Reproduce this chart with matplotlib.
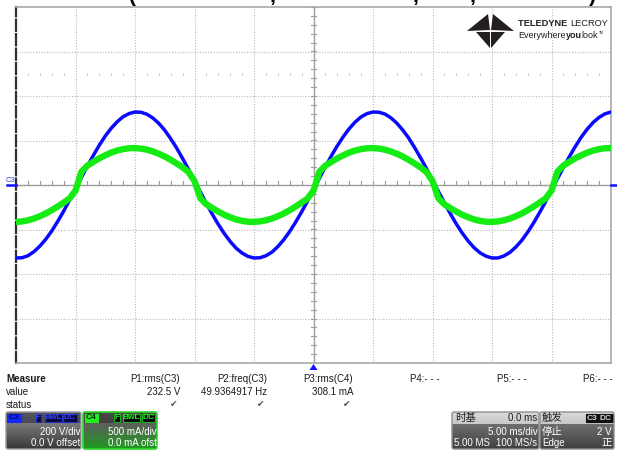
import numpy as np
import matplotlib.pyplot as plt
from matplotlib.patches import FancyBboxPatch, Polygon, Rectangle
from matplotlib.colors import to_rgb

plt.rcParams['font.family'] = ['Liberation Sans', 'DejaVu Sans', 'Noto Sans CJK SC']

# scope settings (from the readout)
volts_per_div = 200
ma_per_div = 500
ms_per_div = 5

# C3 voltage in V, one sample per 0.5 ms from -25 ms to +25 ms
t_volt = np.arange(-25, 25.25, 0.5)
volt = [-328, -327, -318, -300, -275, -244, -207, -164, -118, -68,
        -17, 34, 85, 133, 179, 220, 255, 284, 307, 321,
        328, 327, 318, 301, 277, 246, 208, 166, 119, 70,
        19, -32, -83, -132, -177, -218, -254, -284, -306, -321,
        -328, -327, -318, -302, -277, -246, -209, -167, -121, -72,
        -21, 31, 82, 131, 176, 217, 253, 283, 306, 321,
        328, 327, 319, 302, 278, 247, 211, 168, 122, 73,
        22, -29, -80, -129, -175, -216, -252, -282, -305, -320,
        -328, -328, -319, -303, -279, -249, -212, -170, -124, -75,
        -24, 28, 79, 127, 173, 215, 251, 281, 304, 320, 328]

# C4 current in mA, one sample per 0.5 ms
t_curr = np.arange(-25, 25.25, 0.5)
curr = [-415, -409, -397, -377, -351, -320, -283, -242, -198, -152,
        -63, 150, 218, 260, 300, 334, 364, 387, 403, 413,
        415, 409, 397, 377, 351, 320, 283, 242, 198, 145,
        45, -150, -217, -260, -299, -334, -363, -387, -403, -413,
        -415, -409, -397, -377, -351, -320, -283, -242, -198, -152,
        -63, 150, 218, 260, 300, 334, 364, 387, 403, 413,
        415, 409, 397, 377, 351, 320, 283, 242, 198, 145,
        45, -150, -217, -260, -299, -334, -363, -387, -403, -413,
        -415, -409, -397, -377, -351, -320, -283, -242, -198, -152,
        -63, 150, 218, 260, 300, 334, 364, 387, 403, 413, 415]

measure_names = ["P1:rms(C3)", "P2:freq(C3)", "P3:rms(C4)", "P4:- - -", "P5:- - -", "P6:- - -"]
measure_values = ["232.5 V", "49.9364917 Hz", "308.1 mA", "", "", ""]
measure_ok = [True, True, True, False, False, False]

W, H = 617, 450
fig = plt.figure(figsize=(W / 100, H / 100), dpi=100)
fig.patch.set_facecolor("white")

# ---- waveform grid ----
ax = fig.add_axes([16 / W, 1 - 363 / H, 595 / W, 356 / H])
ax.set_xlim(-25, 25)
ax.set_ylim(-4, 4)
ax.set_xticks([])
ax.set_yticks([])
grid_c = "#b8b8b8"
for x in range(-20, 25, ms_per_div):
    if x != 0:
        ax.axvline(x, color=grid_c, lw=0.8, ls=(0, (1, 1.5)), zorder=1)
for y in range(-3, 4):
    if y != 0:
        ax.axhline(y, color=grid_c, lw=0.8, ls=(0, (1, 1.5)), zorder=1)
ax.axhline(0, color="#9c9c9c", lw=1.0, zorder=1)
ax.axvline(0, color="#9c9c9c", lw=1.0, zorder=1)
for xs in np.arange(-25, 25.01, 1.0):
    ax.plot([xs, xs], [0, 0.08], color="#9c9c9c", lw=0.8, zorder=1)
    if abs(xs % 5) > 1e-6:
        ax.plot([xs, xs], [2.48, 2.52], color="#d0d0d0", lw=0.8, zorder=1)
for ys in np.arange(-4, 4.01, 0.2):
    ax.plot([-0.2, 0.2], [ys, ys], color="#9c9c9c", lw=0.8, zorder=1)

ax.plot(t_volt, np.array(volt) / volts_per_div, color="#0a0aff", lw=2.5,
        solid_joinstyle="round", zorder=3)
ax.plot(t_curr, np.array(curr) / ma_per_div, color="#14ec14", lw=4.6,
        solid_joinstyle="round", zorder=4)

for s in ["top", "right", "bottom"]:
    ax.spines[s].set_color("#a8a8a8")
    ax.spines[s].set_linewidth(1.2)
ax.spines["left"].set_color("#303030")
ax.spines["left"].set_linewidth(1.6)
ax.spines["left"].set_linestyle((0, (5, 1.5)))

# ---- everything else in pixel coordinates ----
px = fig.add_axes([0, 0, 1, 1])
px.axis("off")


def grad(x0, x1, y0, y1, c0, c1):
    a = np.linspace(0, 1, 32)[:, None, None]
    img = (1 - a) * np.array(to_rgb(c0)) + a * np.array(to_rgb(c1))
    img = np.repeat(img, 2, axis=1)
    px.imshow(img, extent=(x0, x1, y1, y0), aspect="auto", interpolation="bilinear", zorder=2)


def frame(x0, x1, y0, y1, ec, lw=1.0):
    px.add_patch(FancyBboxPatch((x0, y0), x1 - x0, y1 - y0,
                                boxstyle="round,pad=0,rounding_size=2",
                                fc="none", ec=ec, lw=lw, zorder=5))


def badge(x0, x1, y0, y1, text, fc, tc, ec=None, size=6):
    px.add_patch(Rectangle((x0, y0), x1 - x0, y1 - y0, fc=fc, ec=ec or fc, lw=0.8, zorder=4))
    px.text((x0 + x1) / 2, (y0 + y1) / 2 + 0.3, text, color=tc, fontsize=size,
            ha="center", va="center", fontweight="bold", zorder=6)


# cut-off title at the very top
for xx, ch in zip([133, 272, 415, 472, 592], ["(", ",", ",", ",", ")"]):
    px.text(xx, 2, ch, fontsize=15, fontweight="bold", ha="center", va="baseline", color="black")

# channel / trigger markers
px.text(11, 181, "C3", fontsize=5.5, color="#2a48e0", ha="center", va="center")
px.plot([7, 16], [185, 185], color="#1010ff", lw=1.8)
px.plot([611, 616], [185, 185], color="#1010ff", lw=1.8)
px.add_patch(Polygon([(309.5, 370), (317.5, 370), (313.5, 364)], fc="#1010ff", ec="none"))

# Teledyne LeCroy logo
logo_c = "#231f20"
for pts in [[(467, 31), (488, 14), (490, 30)],
            [(514, 31), (493, 14), (491, 30)],
            [(476, 31.5), (490, 31.5), (490, 48)],
            [(505, 31.5), (491, 31.5), (491, 48)]]:
    px.add_patch(Polygon(pts, fc=logo_c, ec="none"))
r = fig.canvas.get_renderer()
x = 518
for s, wgt in [("TELEDYNE ", "bold"), ("LECROY", "normal")]:
    t = px.text(x, 24, s, fontsize=6.7, fontweight=wgt, color=logo_c, va="center", ha="left")
    x += t.get_window_extent(r).width
x = 518
for s, wgt in [("Everywhere", "normal"), ("you", "bold"), ("look", "normal")]:
    t = px.text(x, 36, s, fontsize=6.5, fontweight=wgt, color=logo_c, va="center", ha="left")
    x += t.get_window_extent(r).width
px.text(x + 0.5, 32.5, "TM", fontsize=2.5, color=logo_c, va="center", ha="left")

# measurement table
txt_c = "#1a1a1a"
px.text(6, 379, "Measure", fontsize=7, fontweight="bold", color=txt_c, va="center")
px.text(6, 392, "value", fontsize=7, color=txt_c, va="center")
px.text(6, 405, "status", fontsize=7, color=txt_c, va="center")
col_right = [180, 267, 353, 440, 527, 613]
for xr, name, val, ok in zip(col_right, measure_names, measure_values, measure_ok):
    px.text(xr, 379, name, fontsize=7, color=txt_c, ha="right", va="center")
    if val:
        px.text(xr, 392, val, fontsize=7, color=txt_c, ha="right", va="center")
    if ok:
        px.text(xr - 6, 405, "\u2714", fontsize=6.5, color="#505050", ha="center", va="center",
                family="DejaVu Sans")

# C3 channel box
grad(6, 81, 412, 423, "#56565e", "#4a4a52")
grad(6, 81, 423, 449, "#7a7a7a", "#383838")
frame(6, 81, 412, 449, "#9a9aa2")
badge(7, 21, 413.5, 421.5, "C3", "#1428ff", "#000a60")
for x0, x1, s in [(36, 41, "F"), (45, 62, "BwL"), (63, 77, "DC")]:
    badge(x0, x1, 413.5, 421.5, s, "#08083a", "#3444ff", ec="#2030c0")
px.text(80, 432, "200 V/div", fontsize=7, color="white", ha="right", va="center", zorder=6)
px.text(80, 443, "0.0 V offset", fontsize=7, color="white", ha="right", va="center", zorder=6)

# C4 channel box
grad(83, 157, 412, 423, "#4a4a4a", "#404040")
grad(83, 157, 423, 449, "#5e5e5e", "#1e9a1e")
frame(83, 157, 412, 449, "#2ed82e", lw=1.2)
badge(85, 98, 413.5, 421.5, "C4", "#22ee22", "#003000")
for x0, x1, s in [(114, 120, "F"), (123, 140, "BwL"), (142, 155, "DC")]:
    badge(x0, x1, 413.5, 421.5, s, "#050505", "#22ee22", ec="#22aa22")
px.text(157, 432, "500 mA/div", fontsize=7, color="white", ha="right", va="center", zorder=6)
px.text(157, 443, "0.0 mA ofst", fontsize=7, color="white", ha="right", va="center", zorder=6)

# timebase box
grad(452, 539, 412, 424, "#dadada", "#c8c8c8")
grad(452, 539, 424, 449, "#6e6e6e", "#404040")
frame(452, 539, 412, 449, "#909090")
px.text(455, 418, "时基", fontsize=7.5, color="#202020", ha="left", va="center", zorder=6)
px.text(537, 418, "0.0 ms", fontsize=7, color="#202020", ha="right", va="center", zorder=6)
px.text(538, 432, "5.00 ms/div", fontsize=7, color="white", ha="right", va="center", zorder=6)
px.text(454, 443, "5.00 MS", fontsize=7, color="white", ha="left", va="center", zorder=6)
px.text(537, 443, "100 MS/s", fontsize=7, color="white", ha="right", va="center", zorder=6)

# trigger box
grad(540, 614, 412, 424, "#dadada", "#c8c8c8")
grad(540, 614, 424, 449, "#6e6e6e", "#404040")
frame(540, 614, 412, 449, "#909090")
px.text(542, 418, "触发", fontsize=7.5, color="#202020", ha="left", va="center", zorder=6)
badge(586, 598, 413.5, 422, "C3", "#101010", "#d8d8d8")
badge(599, 612.5, 413.5, 422, "DC", "#101010", "#d8d8d8")
px.text(542, 432, "停止", fontsize=7.5, color="white", ha="left", va="center", zorder=6)
px.text(612, 432, "2 V", fontsize=7, color="white", ha="right", va="center", zorder=6)
px.text(542, 443, "Edge", fontsize=7, color="white", ha="left", va="center", zorder=6)
px.text(612, 443, "正", fontsize=7.5, color="white", ha="right", va="center", zorder=6)

px.set_xlim(0, W)
px.set_ylim(H, 0)

fig.savefig("out.png", dpi=100, facecolor="white")
plt.close(fig)
